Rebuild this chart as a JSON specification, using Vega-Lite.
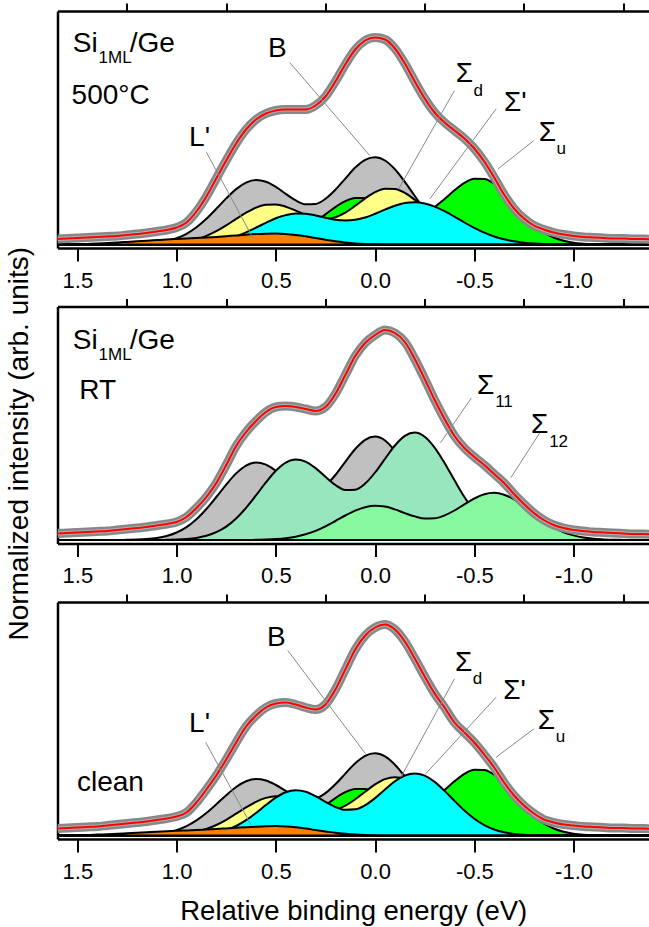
{
"$schema":"https://vega.github.io/schema/vega-lite/v6.json",
"padding":{"left":4.5,"top":2,"right":0,"bottom":0},
"bounds":"flush",
"spacing":58.5,
"config":{"font":"Liberation Sans","view":{"stroke":null}},
"datasets":{
"p1":[
{"e":1.6,"f":5.5,"B":0,"Y":0,"C":0,"G":0,"O":0},
{"e":1.55,"f":6,"B":0,"Y":0,"C":0,"G":0,"O":0},
{"e":1.5,"f":6.5,"B":0,"Y":0,"C":0,"G":0,"O":0.3},
{"e":1.45,"f":7,"B":0,"Y":0,"C":0,"G":0,"O":0.6},
{"e":1.4,"f":7.5,"B":0,"Y":0,"C":0,"G":0,"O":1},
{"e":1.35,"f":8,"B":0,"Y":0,"C":0,"G":0,"O":1.5},
{"e":1.3,"f":8.5,"B":0,"Y":0,"C":0,"G":0,"O":2},
{"e":1.25,"f":9.5,"B":0,"Y":0,"C":0,"G":0,"O":2.6},
{"e":1.2,"f":10.5,"B":0.3,"Y":0,"C":0,"G":0,"O":3.2},
{"e":1.15,"f":11.5,"B":0.8,"Y":0.1,"C":0,"G":0,"O":3.8},
{"e":1.1,"f":13,"B":1.7,"Y":0.3,"C":0,"G":0,"O":4.4},
{"e":1.05,"f":14.5,"B":3.3,"Y":0.7,"C":0,"G":0,"O":5},
{"e":1,"f":17,"B":6.2,"Y":1.5,"C":0.2,"G":0,"O":5.5},
{"e":0.95,"f":22,"B":10.7,"Y":2.9,"C":0.4,"G":0,"O":6},
{"e":0.9,"f":33,"B":17.2,"Y":5.1,"C":0.8,"G":0,"O":6.5},
{"e":0.85,"f":48,"B":25.7,"Y":8.6,"C":1.6,"G":0,"O":7},
{"e":0.8,"f":66,"B":35.7,"Y":13.3,"C":2.9,"G":0,"O":7.6},
{"e":0.75,"f":84,"B":46.1,"Y":19.1,"C":5,"G":0.1,"O":8.3},
{"e":0.7,"f":101,"B":55.4,"Y":25.6,"C":8.1,"G":0.2,"O":9},
{"e":0.65,"f":115,"B":61.9,"Y":31.8,"C":12.1,"G":0.4,"O":9.8},
{"e":0.6,"f":125,"B":64.4,"Y":36.9,"C":16.8,"G":0.8,"O":10.4},
{"e":0.55,"f":131,"B":62.7,"Y":39.8,"C":21.7,"G":1.7,"O":10.8},
{"e":0.5,"f":134,"B":57.6,"Y":40,"C":26.2,"G":3.4,"O":11},
{"e":0.45,"f":135,"B":50.6,"Y":37.8,"C":29.4,"G":6,"O":10.6},
{"e":0.4,"f":135,"B":44.1,"Y":33.9,"C":31,"G":10.1,"O":9.6},
{"e":0.35,"f":135,"B":40.2,"Y":29.6,"C":30.7,"G":15.6,"O":8.2},
{"e":0.3,"f":139,"B":40.6,"Y":26.3,"C":29.1,"G":22.5,"O":6.5},
{"e":0.25,"f":148,"B":45.7,"Y":25.3,"C":26.8,"G":30.1,"O":4.8},
{"e":0.2,"f":163,"B":54.7,"Y":27.2,"C":24.7,"G":37.4,"O":3.2},
{"e":0.15,"f":180,"B":65.9,"Y":31.9,"C":23.9,"G":43.3,"O":2},
{"e":0.1,"f":195,"B":76.9,"Y":38.7,"C":24.7,"G":46.6,"O":1.1},
{"e":0.05,"f":204,"B":84.7,"Y":46.1,"C":27,"G":46.6,"O":0.5},
{"e":0,"f":207,"B":87.3,"Y":52.3,"C":30.7,"G":43.3,"O":0.2},
{"e":-0.05,"f":205,"B":84,"Y":55.8,"C":34.9,"G":39.8,"O":0},
{"e":-0.1,"f":196,"B":75.2,"Y":55.6,"C":38.7,"G":34.9,"O":0},
{"e":-0.15,"f":181,"B":62.6,"Y":51.6,"C":41.4,"G":30.9,"O":0},
{"e":-0.2,"f":163,"B":48.5,"Y":44.6,"C":42.2,"G":29.7,"O":0},
{"e":-0.25,"f":146,"B":35,"Y":35.8,"C":41,"G":32,"O":0},
{"e":-0.3,"f":132,"B":23.4,"Y":26.8,"C":37.9,"G":37.5,"O":0},
{"e":-0.35,"f":122,"B":14.5,"Y":18.6,"C":33.3,"G":45.6,"O":0},
{"e":-0.4,"f":114,"B":8.4,"Y":12,"C":27.8,"G":54.2,"O":0},
{"e":-0.45,"f":106,"B":4.5,"Y":7.2,"C":22,"G":61.6,"O":0},
{"e":-0.5,"f":96,"B":2.3,"Y":4,"C":16.6,"G":65.8,"O":0},
{"e":-0.55,"f":83,"B":1,"Y":2.1,"C":11.8,"G":65.6,"O":0},
{"e":-0.6,"f":67,"B":0.4,"Y":1,"C":8,"G":60.8,"O":0},
{"e":-0.65,"f":50,"B":0.2,"Y":0.4,"C":5.2,"G":52.5,"O":0},
{"e":-0.7,"f":36,"B":0.1,"Y":0.2,"C":3.2,"G":40,"O":0},
{"e":-0.75,"f":26,"B":0,"Y":0.1,"C":1.8,"G":29,"O":0},
{"e":-0.8,"f":19,"B":0,"Y":0,"C":1,"G":19,"O":0},
{"e":-0.85,"f":15,"B":0,"Y":0,"C":0.5,"G":12,"O":0},
{"e":-0.9,"f":12,"B":0,"Y":0,"C":0.3,"G":7,"O":0},
{"e":-0.95,"f":10,"B":0,"Y":0,"C":0.1,"G":3.8,"O":0},
{"e":-1,"f":8.5,"B":0,"Y":0,"C":0,"G":1.8,"O":0},
{"e":-1.05,"f":7.5,"B":0,"Y":0,"C":0,"G":0.8,"O":0},
{"e":-1.1,"f":7,"B":0,"Y":0,"C":0,"G":0.3,"O":0},
{"e":-1.15,"f":6.5,"B":0,"Y":0,"C":0,"G":0.1,"O":0},
{"e":-1.2,"f":6,"B":0,"Y":0,"C":0,"G":0,"O":0},
{"e":-1.25,"f":6,"B":0,"Y":0,"C":0,"G":0,"O":0},
{"e":-1.3,"f":5.5,"B":0,"Y":0,"C":0,"G":0,"O":0},
{"e":-1.35,"f":5.5,"B":0,"Y":0,"C":0,"G":0,"O":0},
{"e":-1.4,"f":5,"B":0,"Y":0,"C":0,"G":0,"O":0}
],
"p2":[
{"e":1.6,"f":6.5,"B":0,"P":0,"Q":0},
{"e":1.55,"f":7,"B":0,"P":0,"Q":0},
{"e":1.5,"f":7.5,"B":0,"P":0,"Q":0},
{"e":1.45,"f":8,"B":0,"P":0,"Q":0},
{"e":1.4,"f":8.5,"B":0,"P":0,"Q":0},
{"e":1.35,"f":9,"B":0,"P":0,"Q":0},
{"e":1.3,"f":10,"B":0,"P":0,"Q":0},
{"e":1.25,"f":11,"B":0.2,"P":0,"Q":0},
{"e":1.2,"f":12,"B":0.4,"P":0,"Q":0},
{"e":1.15,"f":13,"B":0.9,"P":0,"Q":0},
{"e":1.1,"f":14.5,"B":2,"P":0,"Q":0},
{"e":1.05,"f":16,"B":4,"P":0.2,"Q":0},
{"e":1,"f":18,"B":7.5,"P":0.4,"Q":0},
{"e":0.95,"f":23,"B":12.9,"P":1,"Q":0},
{"e":0.9,"f":32,"B":20.7,"P":2.1,"Q":0},
{"e":0.85,"f":43,"B":31,"P":4.2,"Q":0},
{"e":0.8,"f":57,"B":43,"P":7.8,"Q":0},
{"e":0.75,"f":75,"B":55.4,"P":13.4,"Q":0},
{"e":0.7,"f":94,"B":66.6,"P":21.5,"Q":0},
{"e":0.65,"f":108,"B":74.4,"P":32.2,"Q":0},
{"e":0.6,"f":119,"B":77.5,"P":44.6,"Q":0.2},
{"e":0.55,"f":128,"B":75.4,"P":57.6,"Q":0.4},
{"e":0.5,"f":133,"B":69.2,"P":69.2,"Q":0.9},
{"e":0.45,"f":134,"B":60.8,"P":77.3,"Q":1.8},
{"e":0.4,"f":133,"B":53,"P":80.5,"Q":3.3},
{"e":0.35,"f":131,"B":48.2,"P":78.4,"Q":5.7},
{"e":0.3,"f":129,"B":48.4,"P":71.9,"Q":9.1},
{"e":0.25,"f":133,"B":54.3,"P":63.2,"Q":13.7},
{"e":0.2,"f":146,"B":65,"P":55,"Q":19},
{"e":0.15,"f":165,"B":78.2,"P":50.1,"Q":24.5},
{"e":0.1,"f":184,"B":91,"P":50.3,"Q":29.4},
{"e":0.05,"f":197,"B":100.2,"P":56.4,"Q":32.8},
{"e":0,"f":205,"B":103.4,"P":67.5,"Q":34.2},
{"e":-0.05,"f":210,"B":99.5,"P":81.2,"Q":33.4},
{"e":-0.1,"f":207,"B":89,"P":94.5,"Q":30.6},
{"e":-0.15,"f":198,"B":74.2,"P":104.1,"Q":26.9},
{"e":-0.2,"f":181,"B":57.5,"P":107.4,"Q":23.6},
{"e":-0.25,"f":161,"B":41.4,"P":103.3,"Q":21.5},
{"e":-0.3,"f":140,"B":27.7,"P":92.4,"Q":21.7},
{"e":-0.35,"f":121,"B":17.2,"P":77,"Q":24.6},
{"e":-0.4,"f":104,"B":10,"P":59.7,"Q":29.5},
{"e":-0.45,"f":92,"B":5.4,"P":43,"Q":35.6},
{"e":-0.5,"f":83,"B":2.7,"P":28.8,"Q":41.5},
{"e":-0.55,"f":75,"B":1.2,"P":17.9,"Q":45.7},
{"e":-0.6,"f":66,"B":0.5,"P":10.4,"Q":47.2},
{"e":-0.65,"f":57,"B":0.2,"P":5.6,"Q":45.3},
{"e":-0.7,"f":46,"B":0.1,"P":2.8,"Q":40.6},
{"e":-0.75,"f":36,"B":0,"P":1.3,"Q":33.8},
{"e":-0.8,"f":27,"B":0,"P":0.5,"Q":26.2},
{"e":-0.85,"f":20,"B":0,"P":0.2,"Q":18.9},
{"e":-0.9,"f":15,"B":0,"P":0.1,"Q":12.6},
{"e":-0.95,"f":12,"B":0,"P":0,"Q":7.8},
{"e":-1,"f":10,"B":0,"P":0,"Q":4.6},
{"e":-1.05,"f":9,"B":0,"P":0,"Q":2.4},
{"e":-1.1,"f":8,"B":0,"P":0,"Q":1.2},
{"e":-1.15,"f":7.5,"B":0,"P":0,"Q":0.6},
{"e":-1.2,"f":7,"B":0,"P":0,"Q":0.2},
{"e":-1.25,"f":6.5,"B":0,"P":0,"Q":0.1},
{"e":-1.3,"f":6,"B":0,"P":0,"Q":0},
{"e":-1.35,"f":6,"B":0,"P":0,"Q":0},
{"e":-1.4,"f":5.5,"B":0,"P":0,"Q":0}
],
"p3":[
{"e":1.6,"f":7,"B":0,"Y":0,"C":0,"G":0,"O":0},
{"e":1.55,"f":7.5,"B":0,"Y":0,"C":0,"G":0,"O":0},
{"e":1.5,"f":8,"B":0,"Y":0,"C":0,"G":0,"O":0.3},
{"e":1.45,"f":8.5,"B":0,"Y":0,"C":0,"G":0,"O":0.5},
{"e":1.4,"f":9,"B":0,"Y":0,"C":0,"G":0,"O":0.9},
{"e":1.35,"f":10,"B":0,"Y":0,"C":0,"G":0,"O":1.3},
{"e":1.3,"f":11,"B":0,"Y":0,"C":0,"G":0,"O":1.7},
{"e":1.25,"f":12,"B":0.1,"Y":0,"C":0,"G":0,"O":2.2},
{"e":1.2,"f":13,"B":0.3,"Y":0,"C":0,"G":0,"O":2.7},
{"e":1.15,"f":14,"B":0.7,"Y":0.1,"C":0,"G":0,"O":3.2},
{"e":1.1,"f":15.5,"B":1.5,"Y":0.2,"C":0,"G":0,"O":3.7},
{"e":1.05,"f":17,"B":2.9,"Y":0.5,"C":0,"G":0,"O":4.2},
{"e":1,"f":19,"B":5.4,"Y":1,"C":0,"G":0,"O":4.7},
{"e":0.95,"f":23,"B":9.4,"Y":2,"C":0.2,"G":0,"O":5.1},
{"e":0.9,"f":33,"B":15.1,"Y":3.8,"C":0.6,"G":0,"O":5.5},
{"e":0.85,"f":46,"B":22.5,"Y":6.5,"C":1.4,"G":0,"O":6},
{"e":0.8,"f":60,"B":31.2,"Y":10.5,"C":2.8,"G":0,"O":6.5},
{"e":0.75,"f":76,"B":40.3,"Y":15.7,"C":5.4,"G":0.1,"O":7.1},
{"e":0.7,"f":93,"B":48.5,"Y":21.8,"C":9.5,"G":0.2,"O":7.7},
{"e":0.65,"f":109,"B":54.2,"Y":28.1,"C":15.3,"G":0.4,"O":8.3},
{"e":0.6,"f":120,"B":56.4,"Y":33.7,"C":22.5,"G":0.8,"O":8.8},
{"e":0.55,"f":128,"B":55,"Y":37.6,"C":30.5,"G":1.7,"O":9.2},
{"e":0.5,"f":132,"B":50.5,"Y":39.3,"C":37.8,"G":3.4,"O":9.4},
{"e":0.45,"f":133,"B":44.6,"Y":38.3,"C":43.2,"G":6,"O":9},
{"e":0.4,"f":131,"B":39.2,"Y":35.2,"C":45.3,"G":10.1,"O":8.2},
{"e":0.35,"f":128,"B":36.2,"Y":31.1,"C":43.8,"G":15.6,"O":7},
{"e":0.3,"f":126,"B":37.2,"Y":27.4,"C":39.4,"G":22.5,"O":5.5},
{"e":0.25,"f":131,"B":42.4,"Y":25.4,"C":33.7,"G":30.1,"O":4.1},
{"e":0.2,"f":146,"B":51.2,"Y":26.1,"C":28.5,"G":37.4,"O":2.7},
{"e":0.15,"f":166,"B":61.9,"Y":29.8,"C":25.7,"G":43.3,"O":1.7},
{"e":0.1,"f":186,"B":72.3,"Y":36.2,"C":26.2,"G":46.6,"O":0.9},
{"e":0.05,"f":200,"B":79.7,"Y":43.8,"C":30.3,"G":46.6,"O":0.4},
{"e":0,"f":208,"B":82.3,"Y":51.1,"C":37.4,"G":43.3,"O":0.2},
{"e":-0.05,"f":211,"B":79.1,"Y":56.4,"C":46,"G":39.8,"O":0},
{"e":-0.1,"f":206,"B":70.8,"Y":58.2,"C":54.2,"G":34.9,"O":0},
{"e":-0.15,"f":194,"B":59,"Y":56,"C":60,"G":30.9,"O":0},
{"e":-0.2,"f":177,"B":45.8,"Y":50.1,"C":62.1,"G":29.7,"O":0},
{"e":-0.25,"f":159,"B":33,"Y":41.8,"C":59.8,"G":32,"O":0},
{"e":-0.3,"f":142,"B":22.1,"Y":32.4,"C":53.6,"G":37.5,"O":0},
{"e":-0.35,"f":128,"B":13.7,"Y":23.3,"C":44.6,"G":45.6,"O":0},
{"e":-0.4,"f":113,"B":8,"Y":15.6,"C":34.6,"G":54.2,"O":0},
{"e":-0.45,"f":103,"B":4.3,"Y":9.7,"C":24.9,"G":61.6,"O":0},
{"e":-0.5,"f":93,"B":2.1,"Y":5.6,"C":16.7,"G":65.8,"O":0},
{"e":-0.55,"f":81,"B":1,"Y":3,"C":10.4,"G":65.6,"O":0},
{"e":-0.6,"f":68,"B":0.4,"Y":1.5,"C":6,"G":60.8,"O":0},
{"e":-0.65,"f":53,"B":0.2,"Y":0.7,"C":3.2,"G":52.5,"O":0},
{"e":-0.7,"f":40,"B":0.1,"Y":0.3,"C":1.6,"G":40,"O":0},
{"e":-0.75,"f":30,"B":0,"Y":0.1,"C":0.7,"G":29,"O":0},
{"e":-0.8,"f":22,"B":0,"Y":0,"C":0.3,"G":19,"O":0},
{"e":-0.85,"f":16,"B":0,"Y":0,"C":0.1,"G":12,"O":0},
{"e":-0.9,"f":13,"B":0,"Y":0,"C":0,"G":7,"O":0},
{"e":-0.95,"f":11,"B":0,"Y":0,"C":0,"G":3.8,"O":0},
{"e":-1,"f":10,"B":0,"Y":0,"C":0,"G":1.8,"O":0},
{"e":-1.05,"f":9,"B":0,"Y":0,"C":0,"G":0.8,"O":0},
{"e":-1.1,"f":8.5,"B":0,"Y":0,"C":0,"G":0.3,"O":0},
{"e":-1.15,"f":8,"B":0,"Y":0,"C":0,"G":0.1,"O":0},
{"e":-1.2,"f":7.5,"B":0,"Y":0,"C":0,"G":0,"O":0},
{"e":-1.25,"f":7.5,"B":0,"Y":0,"C":0,"G":0,"O":0},
{"e":-1.3,"f":7,"B":0,"Y":0,"C":0,"G":0,"O":0},
{"e":-1.35,"f":7,"B":0,"Y":0,"C":0,"G":0,"O":0},
{"e":-1.4,"f":6.5,"B":0,"Y":0,"C":0,"G":0,"O":0}
],
"t1":[{"e":1.523,"v":192.3,"t":"Si"},{"e":1.236,"v":192.3,"t":"/Ge"},{"e":1.529,"v":140.7,"t":"500°C"},{"e":0.54,"v":187.3,"t":"B"},{"e":-0.406,"v":162.3,"t":"Σ"},{"e":-0.649,"v":134,"t":"Σ'"},{"e":-0.824,"v":104,"t":"Σ"},{"e":0.937,"v":99,"t":"L'"}],
"s1":[{"e":1.393,"v":181.7,"t":"1ML"},{"e":-0.496,"v":149,"t":"d"},{"e":-0.914,"v":90.7,"t":"u"}],
"t2":[{"e":1.523,"v":190.7,"t":"Si"},{"e":1.236,"v":190.7,"t":"/Ge"},{"e":1.49,"v":140.7,"t":"RT"},{"e":-0.513,"v":145.7,"t":"Σ"},{"e":-0.785,"v":107.3,"t":"Σ"}],
"s2":[{"e":1.393,"v":180,"t":"1ML"},{"e":-0.605,"v":133.3,"t":"11"},{"e":-0.877,"v":93.3,"t":"12"}],
"t3":[{"e":0.544,"v":190,"t":"B"},{"e":-0.402,"v":165,"t":"Σ"},{"e":-0.646,"v":136.7,"t":"Σ'"},{"e":-0.82,"v":106.7,"t":"Σ"},{"e":0.937,"v":103.3,"t":"L'"},{"e":1.502,"v":45,"t":"clean"}],
"s3":[{"e":-0.492,"v":151.7,"t":"d"},{"e":-0.91,"v":94,"t":"u"}],
"l1":[{"a":0.43,"b":182,"c":0.027,"d":89},{"a":-0.4,"b":154,"c":-0.12,"d":56},{"a":-0.61,"b":135.7,"c":-0.276,"d":45.7},{"a":-0.8,"b":104,"c":-0.62,"d":75.7},{"a":0.85,"b":92.3,"c":0.613,"d":5.7}],
"l2":[{"a":-0.485,"b":142,"c":-0.33,"d":97.3},{"a":-0.83,"b":107.3,"c":-0.684,"d":62.3}],
"l3":[{"a":0.44,"b":185,"c":0.048,"d":81.7},{"a":-0.4,"b":156.7,"c":-0.13,"d":58.3},{"a":-0.61,"b":138.3,"c":-0.255,"d":61.7},{"a":-0.8,"b":106.7,"c":-0.61,"d":78.3},{"a":0.854,"b":93.3,"c":0.623,"d":10}]
},
"vconcat":[
{"width":591.5,"height":237,
"resolve":{"axis":{"x":"independent","y":"independent"}},
"layer":[
{"data":{"name":"p1"},"mark":{"type":"area","color":"#c0c0c0","stroke":"#000","strokeWidth":2,"interpolate":"monotone","clip":true},
"encoding":{"x":{"field":"e","type":"quantitative","scale":{"domain":[-1.38,1.6],"reverse":true,"nice":false,"zero":false},
"axis":{"values":[1.5,1,0.5,0,-0.5,-1],"labelExpr":"datum.value < 0 ? '-' + format(-datum.value, '.1f') : format(datum.value, '.1f')","tickSize":13,"tickWidth":2,"tickColor":"#000","domainColor":"#000","domainWidth":2.5,"labelFontSize":22,"labelColor":"#000","labelPadding":9,"labelFlush":false,"labelOverlap":false,"grid":false,"title":null}},
"y":{"field":"B","type":"quantitative","scale":{"domain":[-3.5,233.5],"nice":false,"zero":false},"axis":{"domainColor":"#000","domainWidth":2.5,"ticks":false,"labels":false,"grid":false,"title":null}},
"y2":{"datum":0}}},
{"data":{"name":"p1"},"mark":{"type":"area","color":"#00ff00","stroke":"#000","strokeWidth":2,"interpolate":"monotone","clip":true},
"encoding":{"x":{"field":"e","type":"quantitative","axis":{"values":[1.25,0.75,0.25,-0.25,-0.75,-1.25],"tickSize":8,"tickWidth":2,"tickColor":"#000","domain":false,"labels":false,"grid":false,"title":null}},"y":{"field":"G","type":"quantitative","axis":null},"y2":{"datum":0}}},
{"data":{"name":"p1"},"mark":{"type":"area","color":"#ffff88","stroke":"#000","strokeWidth":2,"interpolate":"monotone","clip":true},
"encoding":{"x":{"field":"e","type":"quantitative","axis":{"orient":"top","domainColor":"#000","domainWidth":2.5,"ticks":false,"labels":false,"grid":false,"title":null}},"y":{"field":"Y","type":"quantitative","axis":null},"y2":{"datum":0}}},
{"data":{"name":"p1"},"mark":{"type":"area","color":"#00ffff","stroke":"#000","strokeWidth":2,"interpolate":"monotone","clip":true},
"encoding":{"x":{"field":"e","type":"quantitative","axis":null},"y":{"field":"C","type":"quantitative","axis":null},"y2":{"datum":0}}},
{"data":{"name":"p1"},"mark":{"type":"area","color":"#ff8000","stroke":"#000","strokeWidth":2,"interpolate":"monotone","clip":true},
"encoding":{"x":{"field":"e","type":"quantitative","axis":null},"y":{"field":"O","type":"quantitative","axis":null},"y2":{"datum":0}}},
{"data":{"name":"p1"},"mark":{"type":"line","color":"#888888","strokeWidth":9,"interpolate":"monotone","clip":true},
"encoding":{"x":{"field":"e","type":"quantitative","axis":null},"y":{"field":"f","type":"quantitative","axis":null}}},
{"data":{"name":"p1"},"mark":{"type":"line","color":"#b0b0b0","strokeWidth":4,"interpolate":"monotone","clip":true},
"encoding":{"x":{"field":"e","type":"quantitative","axis":null},"y":{"field":"f","type":"quantitative","axis":null}}},
{"data":{"name":"p1"},"mark":{"type":"line","color":"#ff0000","strokeWidth":2,"interpolate":"monotone","clip":true},
"encoding":{"x":{"field":"e","type":"quantitative","axis":null},"y":{"field":"f","type":"quantitative","axis":null}}},
{"data":{"name":"l1"},"mark":{"type":"rule","color":"#888","strokeWidth":1},
"encoding":{"x":{"field":"a","type":"quantitative","axis":null},"x2":{"field":"c"},"y":{"field":"b","type":"quantitative","axis":null},"y2":{"field":"d"}}},
{"data":{"name":"t1"},"mark":{"type":"text","fontSize":28,"align":"left","baseline":"alphabetic","color":"#000"},
"encoding":{"x":{"field":"e","type":"quantitative","axis":null},"y":{"field":"v","type":"quantitative","axis":null},"text":{"field":"t"}}},
{"data":{"name":"s1"},"mark":{"type":"text","fontSize":17,"align":"left","baseline":"alphabetic","color":"#000"},
"encoding":{"x":{"field":"e","type":"quantitative","axis":null},"y":{"field":"v","type":"quantitative","axis":null},"text":{"field":"t"}}}
]},
{"width":591.5,"height":237,
"resolve":{"axis":{"x":"independent","y":"independent"}},
"layer":[
{"data":{"name":"p2"},"mark":{"type":"area","color":"#c0c0c0","stroke":"#000","strokeWidth":2,"interpolate":"monotone","clip":true},
"encoding":{"x":{"field":"e","type":"quantitative","scale":{"domain":[-1.38,1.6],"reverse":true,"nice":false,"zero":false},
"axis":{"values":[1.5,1,0.5,0,-0.5,-1],"labelExpr":"datum.value < 0 ? '-' + format(-datum.value, '.1f') : format(datum.value, '.1f')","tickSize":13,"tickWidth":2,"tickColor":"#000","domainColor":"#000","domainWidth":2.5,"labelFontSize":22,"labelColor":"#000","labelPadding":9,"labelFlush":false,"labelOverlap":false,"grid":false,"title":null}},
"y":{"field":"B","type":"quantitative","scale":{"domain":[-3.5,233.5],"nice":false,"zero":false},"axis":{"domainColor":"#000","domainWidth":2.5,"ticks":false,"labels":false,"grid":false,"title":"Normalized intensity (arb. units)","titleFontSize":28,"titleFontWeight":"normal","titleColor":"#000","titleX":-30.5,"titleY":136.75,"titleAngle":-90,"titleAlign":"center","titleBaseline":"alphabetic"}},
"y2":{"datum":0}}},
{"data":{"name":"p2"},"mark":{"type":"area","color":"#98e6be","stroke":"#000","strokeWidth":2,"interpolate":"monotone","clip":true},
"encoding":{"x":{"field":"e","type":"quantitative","axis":{"values":[1.25,0.75,0.25,-0.25,-0.75,-1.25],"tickSize":8,"tickWidth":2,"tickColor":"#000","domain":false,"labels":false,"grid":false,"title":null}},"y":{"field":"P","type":"quantitative","axis":null},"y2":{"datum":0}}},
{"data":{"name":"p2"},"mark":{"type":"area","color":"#88f8a0","stroke":"#000","strokeWidth":2,"interpolate":"monotone","clip":true},
"encoding":{"x":{"field":"e","type":"quantitative","axis":{"orient":"top","domainColor":"#000","domainWidth":2.5,"ticks":false,"labels":false,"grid":false,"title":null}},"y":{"field":"Q","type":"quantitative","axis":null},"y2":{"datum":0}}},
{"data":{"name":"p2"},"mark":{"type":"line","color":"#888888","strokeWidth":9,"interpolate":"monotone","clip":true},
"encoding":{"x":{"field":"e","type":"quantitative","axis":null},"y":{"field":"f","type":"quantitative","axis":null}}},
{"data":{"name":"p2"},"mark":{"type":"line","color":"#b0b0b0","strokeWidth":4,"interpolate":"monotone","clip":true},
"encoding":{"x":{"field":"e","type":"quantitative","axis":null},"y":{"field":"f","type":"quantitative","axis":null}}},
{"data":{"name":"p2"},"mark":{"type":"line","color":"#ff0000","strokeWidth":2,"interpolate":"monotone","clip":true},
"encoding":{"x":{"field":"e","type":"quantitative","axis":null},"y":{"field":"f","type":"quantitative","axis":null}}},
{"data":{"name":"l2"},"mark":{"type":"rule","color":"#888","strokeWidth":1},
"encoding":{"x":{"field":"a","type":"quantitative","axis":null},"x2":{"field":"c"},"y":{"field":"b","type":"quantitative","axis":null},"y2":{"field":"d"}}},
{"data":{"name":"t2"},"mark":{"type":"text","fontSize":28,"align":"left","baseline":"alphabetic","color":"#000"},
"encoding":{"x":{"field":"e","type":"quantitative","axis":null},"y":{"field":"v","type":"quantitative","axis":null},"text":{"field":"t"}}},
{"data":{"name":"s2"},"mark":{"type":"text","fontSize":17,"align":"left","baseline":"alphabetic","color":"#000"},
"encoding":{"x":{"field":"e","type":"quantitative","axis":null},"y":{"field":"v","type":"quantitative","axis":null},"text":{"field":"t"}}}
]},
{"width":591.5,"height":237,
"resolve":{"axis":{"x":"independent","y":"independent"}},
"layer":[
{"data":{"name":"p3"},"mark":{"type":"area","color":"#c0c0c0","stroke":"#000","strokeWidth":2,"interpolate":"monotone","clip":true},
"encoding":{"x":{"field":"e","type":"quantitative","scale":{"domain":[-1.38,1.6],"reverse":true,"nice":false,"zero":false},
"axis":{"values":[1.5,1,0.5,0,-0.5,-1],"labelExpr":"datum.value < 0 ? '-' + format(-datum.value, '.1f') : format(datum.value, '.1f')","tickSize":13,"tickWidth":2,"tickColor":"#000","domainColor":"#000","domainWidth":2.5,"labelFontSize":22,"labelColor":"#000","labelPadding":9,"labelFlush":false,"labelOverlap":false,"grid":false,"title":"Relative binding energy (eV)","titleFontSize":27.5,"titleFontWeight":"normal","titleColor":"#000","titleY":80.7,"titleBaseline":"alphabetic"}},
"y":{"field":"B","type":"quantitative","scale":{"domain":[-3.5,233.5],"nice":false,"zero":false},"axis":{"domainColor":"#000","domainWidth":2.5,"ticks":false,"labels":false,"grid":false,"title":null}},
"y2":{"datum":0}}},
{"data":{"name":"p3"},"mark":{"type":"area","color":"#00ff00","stroke":"#000","strokeWidth":2,"interpolate":"monotone","clip":true},
"encoding":{"x":{"field":"e","type":"quantitative","axis":{"values":[1.25,0.75,0.25,-0.25,-0.75,-1.25],"tickSize":8,"tickWidth":2,"tickColor":"#000","domain":false,"labels":false,"grid":false,"title":null}},"y":{"field":"G","type":"quantitative","axis":null},"y2":{"datum":0}}},
{"data":{"name":"p3"},"mark":{"type":"area","color":"#ffff88","stroke":"#000","strokeWidth":2,"interpolate":"monotone","clip":true},
"encoding":{"x":{"field":"e","type":"quantitative","axis":{"orient":"top","domainColor":"#000","domainWidth":2.5,"ticks":false,"labels":false,"grid":false,"title":null}},"y":{"field":"Y","type":"quantitative","axis":null},"y2":{"datum":0}}},
{"data":{"name":"p3"},"mark":{"type":"area","color":"#00ffff","stroke":"#000","strokeWidth":2,"interpolate":"monotone","clip":true},
"encoding":{"x":{"field":"e","type":"quantitative","axis":null},"y":{"field":"C","type":"quantitative","axis":null},"y2":{"datum":0}}},
{"data":{"name":"p3"},"mark":{"type":"area","color":"#ff8000","stroke":"#000","strokeWidth":2,"interpolate":"monotone","clip":true},
"encoding":{"x":{"field":"e","type":"quantitative","axis":null},"y":{"field":"O","type":"quantitative","axis":null},"y2":{"datum":0}}},
{"data":{"name":"p3"},"mark":{"type":"line","color":"#888888","strokeWidth":9,"interpolate":"monotone","clip":true},
"encoding":{"x":{"field":"e","type":"quantitative","axis":null},"y":{"field":"f","type":"quantitative","axis":null}}},
{"data":{"name":"p3"},"mark":{"type":"line","color":"#b0b0b0","strokeWidth":4,"interpolate":"monotone","clip":true},
"encoding":{"x":{"field":"e","type":"quantitative","axis":null},"y":{"field":"f","type":"quantitative","axis":null}}},
{"data":{"name":"p3"},"mark":{"type":"line","color":"#ff0000","strokeWidth":2,"interpolate":"monotone","clip":true},
"encoding":{"x":{"field":"e","type":"quantitative","axis":null},"y":{"field":"f","type":"quantitative","axis":null}}},
{"data":{"name":"l3"},"mark":{"type":"rule","color":"#888","strokeWidth":1},
"encoding":{"x":{"field":"a","type":"quantitative","axis":null},"x2":{"field":"c"},"y":{"field":"b","type":"quantitative","axis":null},"y2":{"field":"d"}}},
{"data":{"name":"t3"},"mark":{"type":"text","fontSize":28,"align":"left","baseline":"alphabetic","color":"#000"},
"encoding":{"x":{"field":"e","type":"quantitative","axis":null},"y":{"field":"v","type":"quantitative","axis":null},"text":{"field":"t"}}},
{"data":{"name":"s3"},"mark":{"type":"text","fontSize":17,"align":"left","baseline":"alphabetic","color":"#000"},
"encoding":{"x":{"field":"e","type":"quantitative","axis":null},"y":{"field":"v","type":"quantitative","axis":null},"text":{"field":"t"}}}
]}
]
}
